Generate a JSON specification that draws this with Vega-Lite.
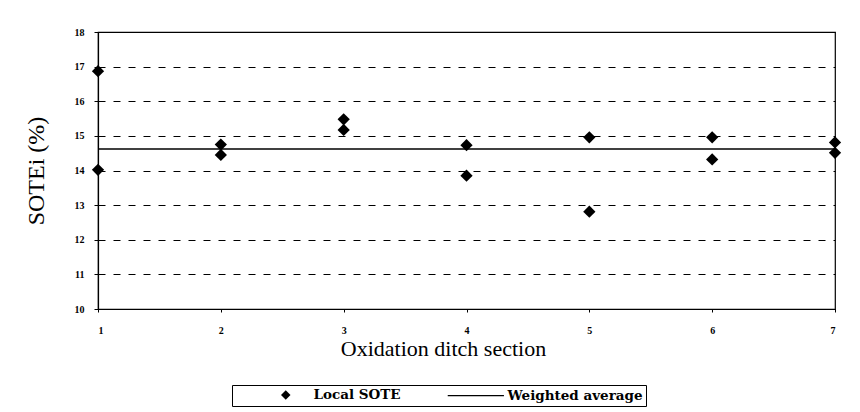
{
  "$schema": "https://vega.github.io/schema/vega-lite/v6.json",
  "autosize": {"type": "none"},
  "width": 737,
  "height": 277,
  "padding": {"left": 98, "top": 32, "right": 25, "bottom": 103},
  "background": "white",
  "config": {
    "view": {"stroke": "black", "strokeWidth": 1.2},
    "font": "Liberation Serif",
    "axis": {"labelFont": "Liberation Serif", "titleFont": "Liberation Serif", "domainColor": "black", "tickColor": "black", "labelColor": "black", "titleColor": "black", "titleFontWeight": "normal", "domainWidth": 1.2}
  },
  "datasets": {
    "local": [
      {"section": 1, "sote": 16.87, "series": "Local SOTE"},
      {"section": 1, "sote": 14.02, "series": "Local SOTE"},
      {"section": 2, "sote": 14.75, "series": "Local SOTE"},
      {"section": 2, "sote": 14.45, "series": "Local SOTE"},
      {"section": 3, "sote": 15.48, "series": "Local SOTE"},
      {"section": 3, "sote": 15.17, "series": "Local SOTE"},
      {"section": 4, "sote": 14.73, "series": "Local SOTE"},
      {"section": 4, "sote": 13.85, "series": "Local SOTE"},
      {"section": 5, "sote": 14.96, "series": "Local SOTE"},
      {"section": 5, "sote": 12.81, "series": "Local SOTE"},
      {"section": 6, "sote": 14.96, "series": "Local SOTE"},
      {"section": 6, "sote": 14.32, "series": "Local SOTE"},
      {"section": 7, "sote": 14.81, "series": "Local SOTE"},
      {"section": 7, "sote": 14.51, "series": "Local SOTE"}
    ],
    "avg": [
      {"section": 1, "sote": 14.62},
      {"section": 7, "sote": 14.62}
    ]
  },
  "encoding": {
    "x": {"field": "section", "type": "quantitative",
      "scale": {"domain": [1, 7], "nice": false, "zero": false},
      "axis": {"title": "Oxidation ditch section", "values": [1, 2, 3, 4, 5, 6, 7], "format": "d", "grid": false, "tickSize": 3, "labelFontSize": 10, "labelFontWeight": "bold", "labelPadding": 13, "titleFontSize": 22, "titlePadding": 3, "titleX": 345}},
    "y": {"field": "sote", "type": "quantitative",
      "scale": {"domain": [10, 18], "nice": false, "zero": false},
      "axis": {"title": "SOTEi (%)", "values": [10, 11, 12, 13, 14, 15, 16, 17, 18], "format": "d", "labelOverlap": false, "grid": true, "gridColor": "black", "gridDash": [7, 8], "gridWidth": 1, "tickSize": 4, "labelFontSize": 10, "labelFontWeight": "bold", "labelPadding": 10, "titleFontSize": 24, "titlePadding": 26}}
  },
  "layer": [
    {
      "data": {"name": "avg"},
      "mark": {"type": "line", "color": "black", "strokeWidth": 1.5}
    },
    {
      "data": {"name": "local"},
      "mark": {"type": "point", "filled": true, "color": "black", "opacity": 1, "size": 150},
      "encoding": {
        "shape": {"field": "series", "type": "nominal",
          "scale": {"domain": ["Local SOTE", "Weighted average"], "range": ["M-1,0L0,-1L1,0L0,1Z", "M-6.75,-0.13L5.1,-0.13L5.1,0.13L-6.75,0.13Z"]},
          "legend": {"title": null, "orient": "none", "legendX": 134, "legendY": 353, "direction": "horizontal", "strokeColor": "black", "padding": 3, "symbolSize": 90, "labelFont": "DejaVu Serif", "labelFontSize": 13.5, "labelFontWeight": "bold", "labelColor": "black", "labelOffset": 21, "columnPadding": 28, "symbolOffset": 44,
            "encode": {"symbols": {"update": {"stroke": {"value": "black"}, "strokeWidth": {"value": 0.6}, "fill": {"value": "black"}, "opacity": {"value": 1}}}}}}
      }
    }
  ]
}
